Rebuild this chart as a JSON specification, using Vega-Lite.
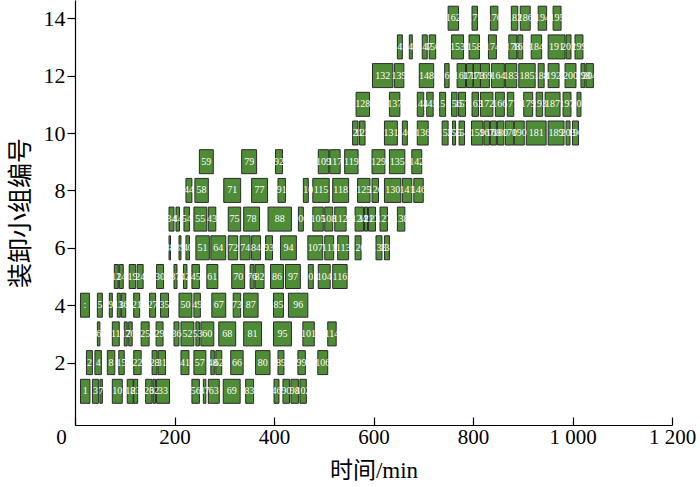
{
"$schema": "https://vega.github.io/schema/vega-lite/v6.json",
"width": 597, "height": 425,
"autosize": {"type": "none"},
"padding": {"left": 75, "top": 0, "right": 28, "bottom": 62},
"background": "white",
"config": {"view": {"stroke": null}, "axis": {"grid": false, "domainColor": "#000", "tickColor": "#000", "labelColor": "#000", "titleColor": "#000", "labelFont": "Liberation Serif", "titleFont": "Liberation Serif, Noto Sans CJK SC", "titleFontWeight": "normal", "domainWidth": 1.2, "tickWidth": 1.2}},
"data": {"values": [
{"g":1,"s":11,"e":30,"id":"1"},{"g":1,"s":35,"e":47,"id":"3"},{"g":1,"s":50,"e":55,"id":"7"},{"g":1,"s":75,"e":95,"id":"10"},{"g":1,"s":105,"e":117,"id":"18"},{"g":1,"s":118,"e":126,"id":"23"},{"g":1,"s":142,"e":155,"id":"26"},{"g":1,"s":157,"e":162,"id":"32"},{"g":1,"s":164,"e":190,"id":"33"},{"g":1,"s":235,"e":250,"id":"56"},{"g":1,"s":258,"e":263,"id":"47"},{"g":1,"s":268,"e":290,"id":"63"},{"g":1,"s":298,"e":332,"id":"69"},{"g":1,"s":343,"e":359,"id":"83"},{"g":1,"s":400,"e":410,"id":"46"},{"g":1,"s":418,"e":431,"id":"90"},{"g":1,"s":434,"e":449,"id":"98"},{"g":1,"s":452,"e":465,"id":"102"},
{"g":2,"s":23,"e":35,"id":"2"},{"g":2,"s":40,"e":53,"id":"4"},{"g":2,"s":65,"e":80,"id":"8"},{"g":2,"s":88,"e":99,"id":"15"},{"g":2,"s":118,"e":133,"id":"22"},{"g":2,"s":155,"e":165,"id":"28"},{"g":2,"s":167,"e":182,"id":"31"},{"g":2,"s":213,"e":229,"id":"41"},{"g":2,"s":239,"e":263,"id":"57"},{"g":2,"s":273,"e":280,"id":"48"},{"g":2,"s":283,"e":295,"id":"62"},{"g":2,"s":313,"e":338,"id":"66"},{"g":2,"s":363,"e":392,"id":"80"},{"g":2,"s":408,"e":420,"id":"89"},{"g":2,"s":448,"e":463,"id":"99"},{"g":2,"s":488,"e":508,"id":"106"},
{"g":3,"s":45,"e":50,"id":"6"},{"g":3,"s":75,"e":89,"id":"11"},{"g":3,"s":99,"e":105,"id":"17"},{"g":3,"s":108,"e":115,"id":"20"},{"g":3,"s":133,"e":149,"id":"25"},{"g":3,"s":163,"e":177,"id":"29"},{"g":3,"s":199,"e":209,"id":"36"},{"g":3,"s":213,"e":239,"id":"52"},{"g":3,"s":243,"e":250,"id":"53"},{"g":3,"s":253,"e":279,"id":"60"},{"g":3,"s":289,"e":323,"id":"68"},{"g":3,"s":339,"e":375,"id":"81"},{"g":3,"s":399,"e":435,"id":"95"},{"g":3,"s":458,"e":481,"id":"101"},{"g":3,"s":508,"e":525,"id":"114"},
{"g":4,"s":11,"e":29,"id":":"},{"g":4,"s":45,"e":55,"id":"5"},{"g":4,"s":69,"e":75,"id":"9"},{"g":4,"s":85,"e":91,"id":"13"},{"g":4,"s":93,"e":102,"id":"16"},{"g":4,"s":118,"e":130,"id":"21"},{"g":4,"s":150,"e":162,"id":"27"},{"g":4,"s":172,"e":188,"id":"35"},{"g":4,"s":209,"e":235,"id":"50"},{"g":4,"s":239,"e":252,"id":"49"},{"g":4,"s":275,"e":303,"id":"67"},{"g":4,"s":318,"e":333,"id":"73"},{"g":4,"s":339,"e":368,"id":"87"},{"g":4,"s":399,"e":419,"id":"85"},{"g":4,"s":429,"e":468,"id":"96"},
{"g":5,"s":79,"e":87,"id":"12"},{"g":5,"s":89,"e":97,"id":"14"},{"g":5,"s":109,"e":122,"id":"19"},{"g":5,"s":125,"e":137,"id":"24"},{"g":5,"s":164,"e":178,"id":"30"},{"g":5,"s":199,"e":205,"id":"37"},{"g":5,"s":218,"e":225,"id":"42"},{"g":5,"s":235,"e":250,"id":"45"},{"g":5,"s":265,"e":287,"id":"61"},{"g":5,"s":315,"e":341,"id":"70"},{"g":5,"s":352,"e":360,"id":"76"},{"g":5,"s":362,"e":380,"id":"82"},{"g":5,"s":393,"e":419,"id":"86"},{"g":5,"s":423,"e":453,"id":"97"},{"g":5,"s":469,"e":479,"id":"103"},{"g":5,"s":489,"e":513,"id":"104"},{"g":5,"s":518,"e":547,"id":"116"},
{"g":6,"s":189,"e":192,"id":"38"},{"g":6,"s":209,"e":213,"id":"39"},{"g":6,"s":223,"e":230,"id":"40"},{"g":6,"s":243,"e":270,"id":"51"},{"g":6,"s":273,"e":303,"id":"64"},{"g":6,"s":308,"e":327,"id":"72"},{"g":6,"s":332,"e":352,"id":"74"},{"g":6,"s":355,"e":373,"id":"84"},{"g":6,"s":383,"e":397,"id":"93"},{"g":6,"s":413,"e":445,"id":"94"},{"g":6,"s":468,"e":498,"id":"107"},{"g":6,"s":502,"e":520,"id":"111"},{"g":6,"s":528,"e":550,"id":"113"},{"g":6,"s":563,"e":575,"id":"120"},{"g":6,"s":605,"e":617,"id":"133"},{"g":6,"s":622,"e":632,"id":"134"},
{"g":7,"s":189,"e":199,"id":"34"},{"g":7,"s":203,"e":210,"id":"44"},{"g":7,"s":219,"e":230,"id":"54"},{"g":7,"s":239,"e":265,"id":"55"},{"g":7,"s":268,"e":283,"id":"43"},{"g":7,"s":308,"e":333,"id":"75"},{"g":7,"s":339,"e":371,"id":"78"},{"g":7,"s":388,"e":435,"id":"88"},{"g":7,"s":449,"e":459,"id":"100"},{"g":7,"s":478,"e":499,"id":"105"},{"g":7,"s":502,"e":518,"id":"108"},{"g":7,"s":522,"e":545,"id":"112"},{"g":7,"s":563,"e":580,"id":"124"},{"g":7,"s":582,"e":588,"id":"121"},{"g":7,"s":590,"e":604,"id":"123"},{"g":7,"s":613,"e":628,"id":"127"},{"g":7,"s":648,"e":663,"id":"138"},
{"g":8,"s":223,"e":235,"id":"44"},{"g":8,"s":241,"e":268,"id":"58"},{"g":8,"s":299,"e":333,"id":"71"},{"g":8,"s":355,"e":387,"id":"77"},{"g":8,"s":408,"e":423,"id":"91"},{"g":8,"s":459,"e":469,"id":"110"},{"g":8,"s":478,"e":511,"id":"115"},{"g":8,"s":518,"e":550,"id":"118"},{"g":8,"s":568,"e":593,"id":"125"},{"g":8,"s":597,"e":610,"id":"126"},{"g":8,"s":622,"e":655,"id":"130"},{"g":8,"s":658,"e":677,"id":"141"},{"g":8,"s":681,"e":700,"id":"146"},
{"g":9,"s":250,"e":278,"id":"59"},{"g":9,"s":335,"e":365,"id":"79"},{"g":9,"s":403,"e":417,"id":"92"},{"g":9,"s":489,"e":510,"id":"109"},{"g":9,"s":512,"e":533,"id":"117"},{"g":9,"s":542,"e":569,"id":"119"},{"g":9,"s":597,"e":623,"id":"129"},{"g":9,"s":632,"e":663,"id":"135"},{"g":9,"s":677,"e":697,"id":"142"},
{"g":10,"s":558,"e":569,"id":"121"},{"g":10,"s":572,"e":583,"id":"122"},{"g":10,"s":622,"e":648,"id":"131"},{"g":10,"s":658,"e":668,"id":"140"},{"g":10,"s":688,"e":710,"id":"136"},{"g":10,"s":738,"e":750,"id":"152"},{"g":10,"s":759,"e":765,"id":"155"},{"g":10,"s":772,"e":783,"id":"154"},{"g":10,"s":797,"e":820,"id":"159"},{"g":10,"s":822,"e":833,"id":"167"},{"g":10,"s":835,"e":847,"id":"168"},{"g":10,"s":849,"e":862,"id":"180"},{"g":10,"s":865,"e":882,"id":"170"},{"g":10,"s":883,"e":903,"id":"190"},{"g":10,"s":907,"e":947,"id":"181"},{"g":10,"s":951,"e":983,"id":"189"},{"g":10,"s":987,"e":995,"id":"203"},{"g":10,"s":1000,"e":1012,"id":"196"},
{"g":11,"s":565,"e":592,"id":"128"},{"g":11,"s":632,"e":653,"id":"137"},{"g":11,"s":688,"e":701,"id":"144"},{"g":11,"s":707,"e":720,"id":"145"},{"g":11,"s":733,"e":745,"id":"151"},{"g":11,"s":757,"e":768,"id":"156"},{"g":11,"s":771,"e":785,"id":"157"},{"g":11,"s":798,"e":811,"id":"163"},{"g":11,"s":815,"e":840,"id":"172"},{"g":11,"s":845,"e":863,"id":"166"},{"g":11,"s":869,"e":882,"id":"177"},{"g":11,"s":902,"e":920,"id":"179"},{"g":11,"s":927,"e":940,"id":"193"},{"g":11,"s":945,"e":975,"id":"187"},{"g":11,"s":981,"e":997,"id":"197"},{"g":11,"s":1009,"e":1017,"id":"201"},
{"g":12,"s":598,"e":639,"id":"132"},{"g":12,"s":642,"e":661,"id":"139"},{"g":12,"s":692,"e":721,"id":"148"},{"g":12,"s":743,"e":752,"id":"160"},{"g":12,"s":768,"e":785,"id":"161"},{"g":12,"s":787,"e":800,"id":"171"},{"g":12,"s":801,"e":815,"id":"173"},{"g":12,"s":815,"e":833,"id":"169"},{"g":12,"s":837,"e":863,"id":"164"},{"g":12,"s":865,"e":888,"id":"183"},{"g":12,"s":892,"e":925,"id":"185"},{"g":12,"s":931,"e":943,"id":"188"},{"g":12,"s":951,"e":973,"id":"192"},{"g":12,"s":985,"e":1007,"id":"200"},{"g":12,"s":1017,"e":1025,"id":"198"},{"g":12,"s":1027,"e":1042,"id":"204"},
{"g":13,"s":648,"e":658,"id":"143"},{"g":13,"s":672,"e":678,"id":"149"},{"g":13,"s":698,"e":708,"id":"147"},{"g":13,"s":712,"e":725,"id":"150"},{"g":13,"s":757,"e":781,"id":"153"},{"g":13,"s":792,"e":813,"id":"158"},{"g":13,"s":831,"e":847,"id":"174"},{"g":13,"s":872,"e":888,"id":"178"},{"g":13,"s":890,"e":900,"id":"165"},{"g":13,"s":917,"e":938,"id":"184"},{"g":13,"s":951,"e":985,"id":"191"},{"g":13,"s":987,"e":997,"id":"202"},{"g":13,"s":1005,"e":1021,"id":"199"},
{"g":14,"s":750,"e":771,"id":"162"},{"g":14,"s":798,"e":809,"id":"175"},{"g":14,"s":835,"e":850,"id":"176"},{"g":14,"s":877,"e":890,"id":"182"},{"g":14,"s":895,"e":915,"id":"186"},{"g":14,"s":931,"e":948,"id":"194"},{"g":14,"s":961,"e":977,"id":"195"}
]},
"layer": [
{"mark": {"type": "bar", "orient": "horizontal", "height": 24, "fill": "#4f8c36", "stroke": "#2a2a2a", "strokeWidth": 1},
 "encoding": {
  "x": {"field": "s", "type": "quantitative", "scale": {"domain": [0, 1200], "nice": false, "zero": false},
        "axis": {"title": "时间/min", "values": [0, 200, 400, 600, 800, 1000, 1200], "labelExpr": "replace(format(datum.value, ','), ',', ' ')", "labelFlush": false, "tickSize": -8, "labelFontSize": 21, "labelPadding": 9, "titleFontSize": 23, "titlePadding": 12,
                 "labelOffset": {"condition": {"test": "datum.value == 0", "value": -14}, "value": 0}}},
  "x2": {"field": "e"},
  "y": {"field": "g", "type": "quantitative", "scale": {"domain": [0, 14.46], "nice": false, "zero": false},
        "axis": {"title": "装卸小组编号", "values": [2, 4, 6, 8, 10, 12, 14], "tickSize": 8, "labelFontSize": 22, "labelPadding": 2, "titleFontSize": 25, "titlePadding": 10}}
 }},
{"transform": [{"calculate": "(datum.s + datum.e) / 2", "as": "m"}],
 "mark": {"type": "text", "color": "white", "font": "Liberation Serif", "fontSize": 10, "baseline": "middle", "align": "center"},
 "encoding": {"x": {"field": "m", "type": "quantitative"}, "y": {"field": "g", "type": "quantitative"}, "text": {"field": "id"}}}
]
}
